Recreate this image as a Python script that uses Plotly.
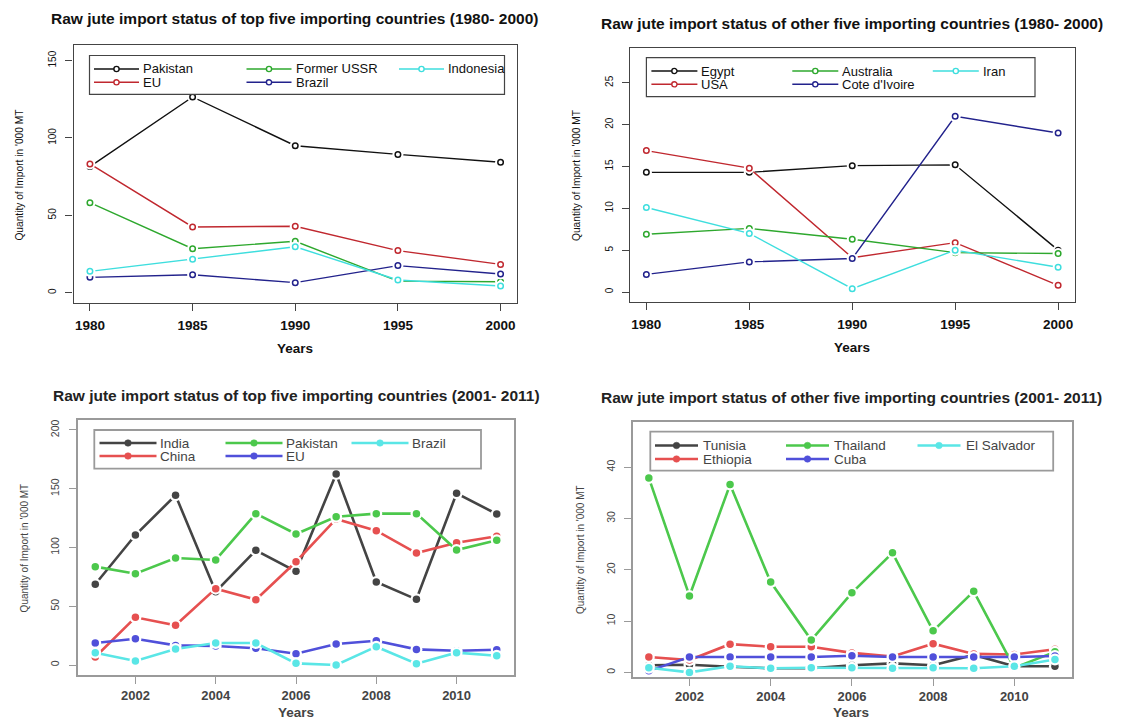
import plotly.graph_objects as go

W, H = 1123, 722

# ---------------- data ----------------
years_a = [1980, 1985, 1990, 1995, 2000]
names_a1 = ["Pakistan", "EU", "Former USSR", "Brazil", "Indonesia"]
pakistan_a = [81.5, 126.5, 95.0, 89.4, 84.3]
eu_a = [83.2, 42.5, 42.9, 27.2, 18.3]
ussr_a = [58.2, 28.4, 33.2, 7.5, 7.1]
brazil_a = [9.9, 11.6, 6.5, 17.5, 12.1]
indonesia_a = [13.8, 21.6, 29.7, 8.2, 4.3]

names_a2 = ["Egypt", "USA", "Australia", "Cote d'Ivoire", "Iran"]
egypt_a = [14.3, 14.3, 15.1, 15.2, 5.0]
usa_a = [16.9, 14.8, 4.1, 5.9, 0.8]
australia_a = [6.9, 7.6, 6.3, 4.7, 4.6]
cote_a = [2.1, 3.6, 4.0, 21.0, 19.0]
iran_a = [10.1, 7.0, 0.4, 5.0, 2.95]

years_b = list(range(2001, 2012))
names_b1 = ["India", "China", "Pakistan", "EU", "Brazil"]
india_b = [68.7, 110.6, 144.4, 62.4, 97.6, 79.7, 162.6, 70.6, 55.9, 146.1, 128.5]
china_b = [6.8, 40.6, 33.8, 65.0, 55.6, 87.9, 124.3, 114.3, 95.3, 104.1, 109.5]
pakistan_b = [83.7, 77.7, 91.1, 89.4, 128.8, 111.5, 126.2, 128.8, 128.8, 97.9, 106.1]
eu_b = [18.7, 22.4, 16.7, 16.2, 14.2, 9.6, 17.9, 20.7, 13.3, 12.2, 13.0]
brazil_b = [10.5, 3.4, 13.6, 18.7, 18.7, 1.4, 0.0, 15.6, 1.1, 10.5, 7.9]

names_b2 = ["Tunisia", "Ethiopia", "Thailand", "Cuba", "El Salvador"]
tunisia_b = [1.4, 1.5, 1.1, 0.8, 0.8, 1.4, 1.75, 1.4, 3.4, 1.2, 1.2]
ethiopia_b = [3.0, 2.4, 5.5, 5.0, 5.0, 3.8, 3.1, 5.6, 3.6, 3.5, 4.5]
thailand_b = [37.9, 14.9, 36.6, 17.6, 6.3, 15.5, 23.3, 8.1, 15.8, 0.9, 4.0]
cuba_b = [0.3, 3.0, 3.0, 3.0, 3.0, 3.25, 3.0, 3.0, 3.0, 3.0, 3.2]
elsalvador_b = [0.9, 0.0, 1.2, 0.8, 0.9, 0.9, 0.8, 0.9, 0.8, 1.2, 2.5]

titles = [
    "Raw jute import status of top five importing countries (1980- 2000)",
    "Raw jute import status of other five importing countries (1980- 2000)",
    "Raw jute import status of top five importing countries (2001- 2011)",
    "Raw jute import status of other five importing countries (2001- 2011)",
]
ytitle = "Quantity of Import in '000 MT"
xtitle = "Years"
ticks_a_y1 = [0, 50, 100, 150]
ticks_a_y2 = [0, 5, 10, 15, 20, 25]
ticks_b_y1 = [0, 50, 100, 150, 200]
ticks_b_y2 = [0, 10, 20, 30, 40]
ticks_a_x = [1980, 1985, 1990, 1995, 2000]
ticks_b_x = [2002, 2004, 2006, 2008, 2010]

colors_top = ["#111111", "#C0282F", "#2EA82E", "#22228C", "#3EDEDE"]
colors_bot = ["#444444", "#E65050", "#4CC84C", "#5050DA", "#5AE6E6"]

# ---------------- layout helpers ----------------
def X(px):
    return px / W

def Y(py):
    return 1 - py / H

panels = [
    dict(years=years_a, names=names_a1, series=[pakistan_a, eu_a, ussr_a, brazil_a, indonesia_a],
         colors=colors_top, top=True, ystand=5,
         frame=(73.5, 517, 45, 302.7), xr=[1979.2, 2000.8], yr=[-6.47, 160.1],
         xt=ticks_a_x, yt=ticks_a_y1,
         title=(294, 19), ylab=(18.6, 175), xlab=(295, 348),
         leg=dict(box=(89.5, 504.5, 55.5, 94.3), cols=(94, 246.5, 399), rows=(69, 82.3),
                  linelen=45, textoff=47)),
    dict(years=years_a, names=names_a2, series=[egypt_a, usa_a, australia_a, cote_a, iran_a],
         colors=colors_top, top=True, ystand=5,
         frame=(630.3, 1075, 47.7, 301.7), xr=[1979.22, 2000.82], yr=[-1.16, 29.2],
         xt=ticks_a_x, yt=ticks_a_y2,
         title=(852, 23), ylab=(576, 176), xlab=(852, 347),
         leg=dict(box=(646.4, 1035, 57.7, 96.7), cols=(651.4, 792.3, 932.8), rows=(71, 84.3),
                  linelen=46, textoff=48)),
    dict(years=years_b, names=names_b1, series=[india_b, china_b, pakistan_b, eu_b, brazil_b],
         colors=colors_bot, top=False, ystand=6,
         frame=(78, 514, 420, 675), xr=[2000.57, 2011.43], yr=[-8.5, 208.5],
         xt=ticks_b_x, yt=ticks_b_y1,
         title=(296, 395), ylab=(24.4, 548), xlab=(296, 712),
         leg=dict(box=(94.3, 481, 430, 468.7), cols=(99.5, 225.5, 351.5), rows=(443, 456),
                  linelen=57, textoff=58)),
    dict(years=years_b, names=names_b2, series=[tunisia_b, ethiopia_b, thailand_b, cuba_b, elsalvador_b],
         colors=colors_bot, top=False, ystand=5,
         frame=(633, 1072, 422, 676.5), xr=[2000.61, 2011.42], yr=[-0.8, 48.8],
         xt=ticks_b_x, yt=ticks_b_y2,
         title=(851, 398), ylab=(580, 550), xlab=(851, 712),
         leg=dict(box=(650.3, 1053.2, 431.7, 470.7), cols=(655, 786, 917.5), rows=(445.5, 459),
                  linelen=43, textoff=46)),
]

FONT = "Liberation Sans, Arial, sans-serif"
fig = go.Figure()
shapes = []
annotations = []
layout_axes = {}

for i, p in enumerate(panels):
    n = i + 1
    xa = "x" if n == 1 else f"x{n}"
    ya = "y" if n == 1 else f"y{n}"
    top = p["top"]
    lw = 1.4 if top else 2.6
    frame_col = "#444444" if top else "#9A9A9A"
    text_col = "#111111" if top else "#444444"
    for k, (nm, vals) in enumerate(zip(p["names"], p["series"])):
        c = p["colors"][k]
        fig.add_trace(go.Scatter(x=p["years"], y=vals, mode="lines", name=nm,
                                 line=dict(color=c, width=lw), xaxis=xa, yaxis=ya,
                                 showlegend=False, hoverinfo="skip"))
        fig.add_trace(go.Scatter(x=p["years"], y=vals, mode="markers", name=nm,
                                 marker=dict(color="white", size=11 if top else 12, line=dict(width=0)),
                                 xaxis=xa, yaxis=ya, showlegend=False, hoverinfo="skip"))
        if top:
            mk = dict(color="white", size=5.5, line=dict(color=c, width=1.5))
        else:
            mk = dict(color=c, size=7.5, line=dict(width=0))
        fig.add_trace(go.Scatter(x=p["years"], y=vals, mode="markers", name=nm,
                                 marker=mk, xaxis=xa, yaxis=ya, showlegend=False,
                                 hovertemplate=nm + ": %{y}<extra></extra>"))
    l, r, t, b = p["frame"]
    axkey_x = "xaxis" if n == 1 else f"xaxis{n}"
    axkey_y = "yaxis" if n == 1 else f"yaxis{n}"
    layout_axes[axkey_x] = dict(
        domain=[X(l), X(r)], range=p["xr"], anchor=ya, tickvals=p["xt"],
        ticks="outside", ticklen=7, tickwidth=1, tickcolor=frame_col,
        showline=True, linecolor=frame_col, linewidth=1.3 if top else 2, mirror=True,
        showgrid=False, zeroline=False,
        tickfont=dict(family=FONT, size=13.5 if top else 13, color=text_col, weight="bold"),
        ticklabelstandoff=3 if top else 0,
    )
    layout_axes[axkey_y] = dict(
        domain=[Y(b), Y(t)], range=p["yr"], anchor=xa, tickvals=p["yt"],
        ticks="outside", ticklen=7, tickwidth=1, tickcolor=frame_col,
        showline=True, linecolor=frame_col, linewidth=1.3 if top else 2, mirror=True,
        showgrid=False, zeroline=False, tickangle=-90,
        tickfont=dict(family=FONT, size=10 if top else 10.5, color=text_col),
        ticklabelstandoff=p["ystand"],
    )
    tx, ty = p["title"]
    annotations.append(dict(x=X(tx), y=Y(ty), xref="paper", yref="paper", showarrow=False,
                            text=titles[i], xanchor="center", yanchor="middle",
                            font=dict(family=FONT, size=15.5,
                                      color="#111111" if top else "#222222", weight="bold")))
    yx, yy = p["ylab"]
    annotations.append(dict(x=X(yx), y=Y(yy), xref="paper", yref="paper", showarrow=False,
                            text=ytitle, textangle=-90, xanchor="center", yanchor="middle",
                            font=dict(family=FONT, size=10.2 if top else 10, color=text_col)))
    xx, xy = p["xlab"]
    annotations.append(dict(x=X(xx), y=Y(xy), xref="paper", yref="paper", showarrow=False,
                            text=xtitle, xanchor="center", yanchor="middle",
                            font=dict(family=FONT, size=13.5, color=text_col, weight="bold")))
    # legend drawn R style: 3 columns, filled column-wise
    lg = p["leg"]
    bl, br, bt, bb = lg["box"]
    shapes.append(dict(type="rect", xref="paper", yref="paper", x0=X(bl), x1=X(br), y0=Y(bb), y1=Y(bt),
                       line=dict(color=frame_col, width=1.2 if top else 1.8), fillcolor="white", layer="above"))
    for k, nm in enumerate(p["names"]):
        col = k // 2
        row = k % 2
        x0 = lg["cols"][col]
        yy0 = lg["rows"][row]
        c = p["colors"][k]
        x1 = x0 + lg["linelen"]
        xm = (x0 + x1) / 2
        shapes.append(dict(type="line", xref="paper", yref="paper", x0=X(x0), x1=X(x1), y0=Y(yy0), y1=Y(yy0),
                           line=dict(color=c, width=lw), layer="above"))
        rad = 2.6 if top else 3.3
        shapes.append(dict(type="circle", xref="paper", yref="paper", xsizemode="pixel", ysizemode="pixel",
                           xanchor=X(xm), yanchor=Y(yy0), x0=-rad, x1=rad, y0=-rad, y1=rad,
                           fillcolor="white" if top else c, line=dict(color=c, width=1.4 if top else 0.5),
                           layer="above"))
        annotations.append(dict(x=X(x0 + lg["textoff"]), y=Y(yy0), xref="paper", yref="paper",
                                showarrow=False, text=nm, xanchor="left", yanchor="middle",
                                font=dict(family=FONT, size=13 if top else 13.5, color=text_col)))

fig.update_layout(
    width=W, height=H, margin=dict(l=0, r=0, t=0, b=0),
    paper_bgcolor="white", plot_bgcolor="white", showlegend=False,
    shapes=shapes, annotations=annotations, **layout_axes,
)

fig.write_html("out.html", config={"displayModeBar": False},
               post_script="document.body.style.margin='0px';document.body.style.padding='0px';")
